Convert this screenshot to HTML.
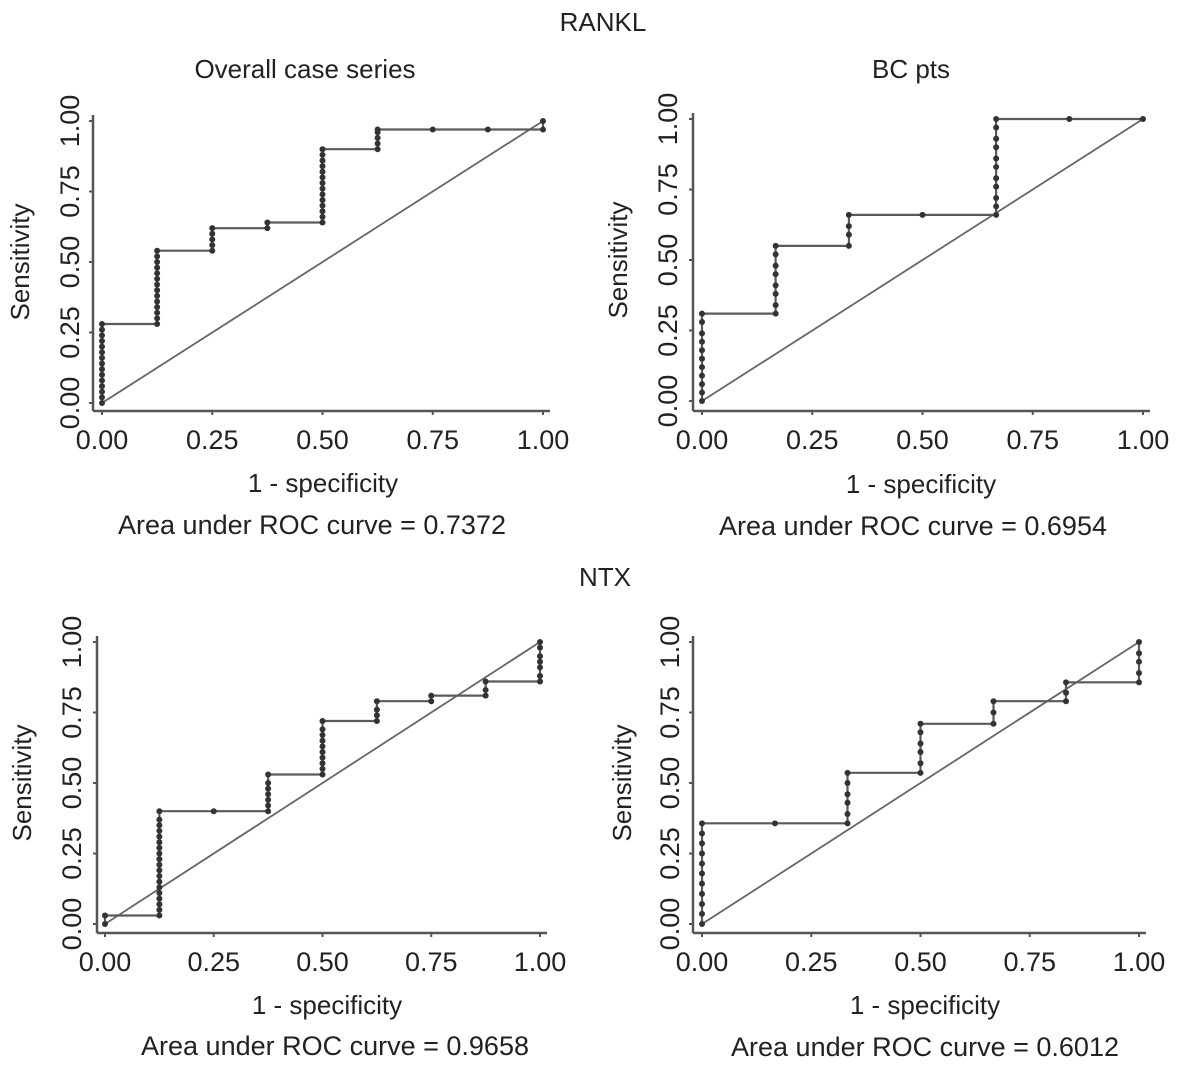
<!DOCTYPE html>
<html><head><meta charset="utf-8"><style>
html,body{margin:0;padding:0;background:#fff;}
svg{display:block;font-family:"Liberation Sans",Arial,sans-serif;}
</style></head><body>
<svg id="chart" width="1180" height="1068" viewBox="0 0 1180 1068">
<text x="603" y="31" font-size="26" text-anchor="middle" fill="#222">RANKL</text>
<text x="605" y="586" font-size="26" text-anchor="middle" fill="#222">NTX</text>
</svg>
<script>
const fpr1 = [0,0,0,0,0,0,0,0,0,0,0,0,0,0,0,0.125,0.125,0.125,0.125,0.125,0.125,0.125,0.125,0.125,0.125,0.125,0.125,0.125,0.125,0.25,0.25,0.25,0.25,0.25,0.375,0.375,0.5,0.5,0.5,0.5,0.5,0.5,0.5,0.5,0.5,0.5,0.5,0.5,0.5,0.5,0.625,0.625,0.625,0.625,0.625,0.75,0.875,1,1];
const tpr1 = [0,0.02,0.04,0.06,0.08,0.1,0.12,0.14,0.16,0.18,0.2,0.22,0.24,0.26,0.28,0.28,0.3,0.32,0.34,0.36,0.38,0.4,0.42,0.44,0.46,0.48,0.5,0.52,0.54,0.54,0.56,0.58,0.6,0.62,0.62,0.64,0.64,0.66,0.68,0.7,0.72,0.74,0.76,0.78,0.8,0.82,0.84,0.86,0.88,0.9,0.9,0.92,0.94,0.96,0.97,0.97,0.97,0.97,1];
const fpr2 = [0,0,0,0,0,0,0,0,0,0,0,0.167,0.167,0.167,0.167,0.167,0.167,0.167,0.167,0.333,0.333,0.333,0.333,0.5,0.667,0.667,0.667,0.667,0.667,0.667,0.667,0.667,0.667,0.667,0.667,0.833,1];
const tpr2 = [0,0.03,0.06,0.09,0.12,0.15,0.18,0.21,0.24,0.28,0.31,0.31,0.34,0.38,0.41,0.45,0.48,0.52,0.55,0.55,0.59,0.62,0.66,0.66,0.66,0.69,0.72,0.76,0.79,0.83,0.86,0.9,0.93,0.97,1,1,1];
const fpr3 = [0,0,0.125,0.125,0.125,0.125,0.125,0.125,0.125,0.125,0.125,0.125,0.125,0.125,0.125,0.125,0.125,0.125,0.125,0.125,0.125,0.25,0.375,0.375,0.375,0.375,0.375,0.375,0.375,0.5,0.5,0.5,0.5,0.5,0.5,0.5,0.5,0.5,0.5,0.625,0.625,0.625,0.625,0.75,0.75,0.875,0.875,0.875,1,1,1,1,1,1,1];
const tpr3 = [0,0.03,0.03,0.05,0.07,0.09,0.11,0.13,0.15,0.17,0.19,0.21,0.23,0.25,0.27,0.29,0.31,0.33,0.35,0.37,0.4,0.4,0.4,0.42,0.44,0.46,0.48,0.5,0.53,0.53,0.55,0.57,0.59,0.61,0.63,0.65,0.67,0.69,0.72,0.72,0.74,0.76,0.79,0.79,0.81,0.81,0.83,0.86,0.86,0.88,0.91,0.93,0.95,0.98,1];
const fpr4 = [0,0,0,0,0,0,0,0,0,0,0,0.167,0.333,0.333,0.333,0.333,0.333,0.333,0.5,0.5,0.5,0.5,0.5,0.5,0.667,0.667,0.667,0.833,0.833,0.833,1,1,1,1,1];
const tpr4 = [0,0.036,0.071,0.107,0.143,0.179,0.214,0.25,0.286,0.321,0.357,0.357,0.357,0.39,0.43,0.46,0.5,0.536,0.536,0.57,0.61,0.64,0.68,0.71,0.71,0.75,0.79,0.79,0.82,0.857,0.857,0.89,0.93,0.96,1];
const tickLabels = ["0.00","0.25","0.50","0.75","1.00"];
const tickValues = [0,0.25,0.5,0.75,1];

const panels = [
 {name:"overall",fpr:fpr1,tpr:tpr1,axX:93,x0:102,x1:543,y0:403,y1:121,axY:411,ylab:70,sens:20,title:"Overall case series",tx:305,ty:78,xl:449,spec:[323,492],auc:[312,534],aucText:"Area under ROC curve = 0.7372"},
 {name:"bc",fpr:fpr2,tpr:tpr2,axX:693,x0:702,x1:1143,y0:401,y1:119,axY:411,ylab:668,sens:618,title:"BC pts",tx:911,ty:78,xl:449,spec:[921,493],auc:[913,535],aucText:"Area under ROC curve = 0.6954"},
 {name:"ntx-overall",fpr:fpr3,tpr:tpr3,axX:97,x0:105,x1:540,y0:924,y1:642,axY:933,ylab:72,sens:22,title:"",xl:971,spec:[327,1014],auc:[335,1055],aucText:"Area under ROC curve = 0.9658"},
 {name:"ntx-bc",fpr:fpr4,tpr:tpr4,axX:693,x0:702,x1:1139,y0:924,y1:642,axY:933,ylab:670,sens:622,title:"",xl:971,spec:[925,1014],auc:[925,1056],aucText:"Area under ROC curve = 0.6012"}
];
const svg = document.getElementById('chart');
const NS = "http://www.w3.org/2000/svg";
function mk(tag, attrs, parent){const e=document.createElementNS(NS,tag);for(const k in attrs)e.setAttribute(k,attrs[k]);(parent||svg).appendChild(e);return e;}
panels.forEach(p=>{
  const g = mk('g',{});
  
  
  const sx = v => p.x0 + v*(p.x1-p.x0);
  const sy = v => p.y0 - v*(p.y0-p.y1);
  const ya = mk('line',{x1:p.axX,y1:p.y1-6,x2:p.axX,y2:p.axY,stroke:'#555','stroke-width':2.5},g);
  
  
  const xa = mk('line',{x1:p.axX,y1:p.axY,x2:p.x1+7,y2:p.axY,stroke:'#555','stroke-width':2.5},g);
  
  
  tickValues.forEach((v,i)=>{
    mk('line',{x1:p.axX-4,y1:sy(v),x2:p.axX,y2:sy(v),stroke:'#555','stroke-width':2},g);
    mk('line',{x1:sx(v),y1:p.axY,x2:sx(v),y2:p.axY+4,stroke:'#555','stroke-width':2},g);
    const yt = mk('text',{x:p.ylab,y:sy(v),'font-size':27,'text-anchor':'middle','dominant-baseline':'central',fill:'#222',transform:`rotate(-90 ${p.ylab} ${sy(v)})`},g);
    yt.textContent = tickLabels[i];
    
    
    const xt = mk('text',{x:sx(v),y:p.xl,'font-size':27,'text-anchor':'middle',fill:'#222'},g);
    xt.textContent = tickLabels[i];
    
    
  });
  const d = mk('line',{x1:sx(0),y1:sy(0),x2:sx(1),y2:sy(1),stroke:'#666','stroke-width':1.8},g);
  
  
  const pts = p.fpr.map((f,i)=>sx(f).toFixed(1)+','+sy(p.tpr[i]).toFixed(1)).join(' ');
  const pl = mk('polyline',{points:pts,fill:'none',stroke:'#5a5a5a','stroke-width':2.2},g);
  
  
  p.fpr.forEach((f,i)=>{
    const c = mk('circle',{cx:sx(f),cy:sy(p.tpr[i]),r:3,fill:'#333'},g);
    
    
  });
  const cy = (p.y0+p.y1)/2;
  const s = mk('text',{x:p.sens,y:cy,'font-size':26,'text-anchor':'middle','dominant-baseline':'central',fill:'#222',transform:`rotate(-90 ${p.sens} ${cy})`},g);
  s.textContent = 'Sensitivity';
  
  
  const sp = mk('text',{x:p.spec[0],y:p.spec[1],'font-size':26,'text-anchor':'middle',fill:'#222'},g);
  sp.textContent = '1 - specificity';
  
  
  const au = mk('text',{x:p.auc[0],y:p.auc[1],'font-size':27,'text-anchor':'middle',fill:'#222'},g);
  au.textContent = p.aucText;
  
  
  if(p.title){
    const t = mk('text',{x:p.tx,y:p.ty,'font-size':26,'text-anchor':'middle',fill:'#222'},g);
    t.textContent = p.title;
    
    
  }
});
</script>
</body></html>
